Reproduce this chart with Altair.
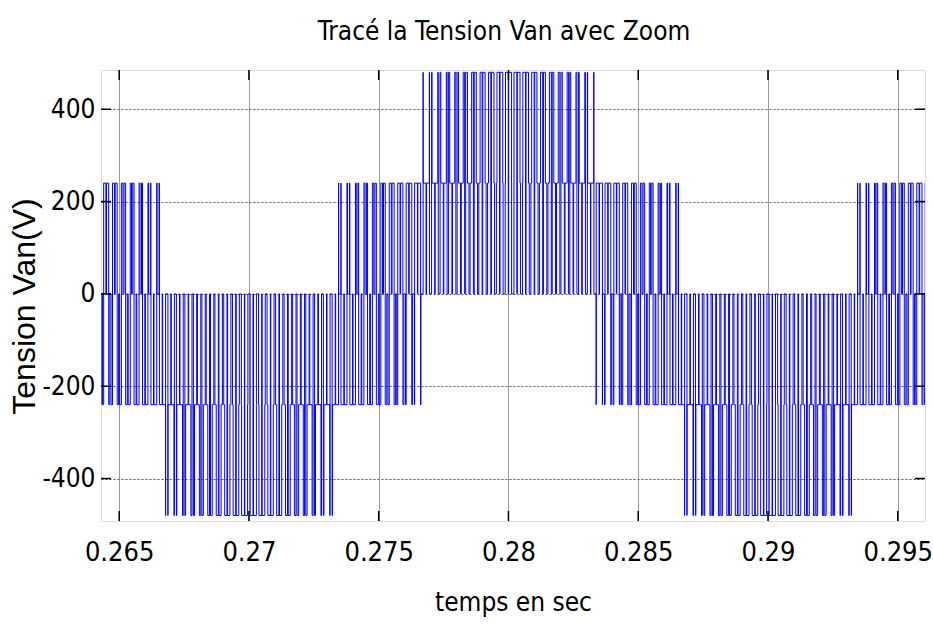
import altair as alt
import pandas as pd

# Inverter / carrier settings
carrier_start_ms = 264.0
carrier_period_ms = 1 / 3          # 3 kHz triangular carrier
dc_link_v = 720                    # gives phase-to-neutral levels of 0, ±240, ±480 V

# Duty ratio of each inverter leg, one value per carrier period
duty_a = [0.63, 0.58, 0.54, 0.49, 0.44, 0.40, 0.35, 0.31, 0.27, 0.23, 0.19, 0.16,
          0.13, 0.11, 0.08, 0.07, 0.06, 0.05, 0.05, 0.05, 0.06, 0.07, 0.09, 0.12,
          0.14, 0.17, 0.21, 0.24, 0.28, 0.33, 0.37, 0.42, 0.46, 0.51, 0.56, 0.60,
          0.65, 0.69, 0.73, 0.77, 0.81, 0.84, 0.87, 0.89, 0.91, 0.93, 0.94, 0.95,
          0.95, 0.95, 0.94, 0.92, 0.91, 0.88, 0.86, 0.83, 0.79, 0.76, 0.72, 0.67,
          0.63, 0.58, 0.54, 0.49, 0.44, 0.40, 0.35, 0.31, 0.27, 0.23, 0.19, 0.16,
          0.13, 0.11, 0.08, 0.07, 0.06, 0.05, 0.05, 0.05, 0.06, 0.07, 0.09, 0.12,
          0.14, 0.17, 0.21, 0.24, 0.28, 0.33, 0.37, 0.42, 0.46, 0.51, 0.56, 0.60,
          0.65]
duty_b = [0.81, 0.84, 0.87, 0.89, 0.91, 0.93, 0.94, 0.95,
          0.95, 0.95, 0.94, 0.92, 0.91, 0.88, 0.86, 0.83, 0.79, 0.76, 0.72, 0.67,
          0.63, 0.58, 0.54, 0.49, 0.44, 0.40, 0.35, 0.31, 0.27, 0.23, 0.19, 0.16,
          0.13, 0.11, 0.08, 0.07, 0.06, 0.05, 0.05, 0.05, 0.06, 0.07, 0.09, 0.12,
          0.14, 0.17, 0.21, 0.24, 0.28, 0.33, 0.37, 0.42, 0.46, 0.51, 0.56, 0.60,
          0.65, 0.69, 0.73, 0.77, 0.81, 0.84, 0.87, 0.89, 0.91, 0.93, 0.94, 0.95,
          0.95, 0.95, 0.94, 0.92, 0.91, 0.88, 0.86, 0.83, 0.79, 0.76, 0.72, 0.67,
          0.63, 0.58, 0.54, 0.49, 0.44, 0.40, 0.35, 0.31, 0.27, 0.23, 0.19, 0.16,
          0.13, 0.11, 0.08, 0.07, 0.06]
duty_c = [0.06, 0.07, 0.09, 0.12, 0.14, 0.17, 0.21, 0.24, 0.28, 0.33, 0.37, 0.42,
          0.46, 0.51, 0.56, 0.60, 0.65, 0.69, 0.73, 0.77, 0.81, 0.84, 0.87, 0.89,
          0.91, 0.93, 0.94, 0.95,
          0.95, 0.95, 0.94, 0.92, 0.91, 0.88, 0.86, 0.83, 0.79, 0.76, 0.72, 0.67,
          0.63, 0.58, 0.54, 0.49, 0.44, 0.40, 0.35, 0.31, 0.27, 0.23, 0.19, 0.16,
          0.13, 0.11, 0.08, 0.07, 0.06, 0.05, 0.05, 0.05, 0.06, 0.07, 0.09, 0.12,
          0.14, 0.17, 0.21, 0.24, 0.28, 0.33, 0.37, 0.42, 0.46, 0.51, 0.56, 0.60,
          0.65, 0.69, 0.73, 0.77, 0.81, 0.84, 0.87, 0.89, 0.91, 0.93, 0.94, 0.95,
          0.95, 0.95, 0.94, 0.92, 0.91, 0.88, 0.86, 0.83, 0.79]

# Axes
x_domain = [0.2643, 0.29605]
y_domain = [-492, 485]
x_ticks = [0.265, 0.27, 0.275, 0.28, 0.285, 0.29, 0.295]
y_ticks = [-400, -200, 0, 200, 400]

# Each leg is on for the middle part of its carrier period
events = []
for i, duties in enumerate(zip(duty_a, duty_b, duty_c)):
    t0 = carrier_start_ms + i * carrier_period_ms
    for leg, d in enumerate(duties):
        events.append((t0 + (1 - d) * carrier_period_ms / 2, leg, 1))
        events.append((t0 + (1 + d) * carrier_period_ms / 2, leg, 0))
events.sort()

state = [0, 0, 0]
rows = [{"t": carrier_start_ms / 1000, "v": 0.0}]
for t, leg, s in events:
    state[leg] = s
    van = dc_link_v / 3 * (2 * state[0] - state[1] - state[2])
    rows.append({"t": t / 1000, "v": van})
wave = pd.DataFrame(rows)

W, H = 824, 451
NARROW = "Liberation Sans Narrow, Arial Narrow, DejaVu Sans Condensed, sans-serif"
REGULAR = "Liberation Sans, Arial, sans-serif"

x_scale = alt.Scale(domain=x_domain, nice=False, zero=False)
y_scale = alt.Scale(domain=y_domain, nice=False, zero=False)

line = alt.Chart(wave).mark_line(
    interpolate="step-after", clip=True, color="#0000ff", strokeWidth=1
).encode(
    x=alt.X("t:Q", scale=x_scale,
            axis=alt.Axis(values=x_ticks, labelExpr="'' + datum.value",
                          title="temps en sec", grid=True, gridColor="#9a9a9a",
                          gridWidth=1, ticks=False, domain=False,
                          labelFont=NARROW, labelFontSize=27, labelPadding=18,
                          labelColor="black", titleFont=NARROW, titleFontSize=26,
                          titleFontWeight="normal", titleColor="black",
                          titlePadding=24)),
    y=alt.Y("v:Q", scale=y_scale,
            axis=alt.Axis(values=y_ticks, labelExpr="'' + datum.value",
                          title="Tension Van(V)", grid=True, gridColor="#555555",
                          gridDash=[2, 2], gridWidth=1, ticks=False, domain=False,
                          labelFont=NARROW, labelFontSize=26, labelPadding=6,
                          labelColor="black", titleFont=REGULAR, titleFontSize=32,
                          titleFontWeight="normal", titleColor="black",
                          titleX=-60, titleY=236, titleBaseline="bottom")),
)

xt = pd.DataFrame({"t": x_ticks})
yt = pd.DataFrame({"v": y_ticks})
tick_style = dict(color="black", strokeWidth=1.5)

ticks_bottom = alt.Chart(xt).mark_rule(**tick_style).encode(
    x=alt.X("t:Q", scale=x_scale), y=alt.value(H - 10), y2=alt.value(H))
ticks_top = alt.Chart(xt).mark_rule(**tick_style).encode(
    x=alt.X("t:Q", scale=x_scale), y=alt.value(0), y2=alt.value(10))
ticks_left = alt.Chart(yt).mark_rule(**tick_style).encode(
    y=alt.Y("v:Q", scale=y_scale), x=alt.value(0), x2=alt.value(10))
ticks_right = alt.Chart(yt).mark_rule(**tick_style).encode(
    y=alt.Y("v:Q", scale=y_scale), x=alt.value(W - 10), x2=alt.value(W))

chart = alt.layer(line, ticks_bottom, ticks_top, ticks_left, ticks_right).properties(
    width=W, height=H,
    title=alt.TitleParams("Tracé la Tension Van avec Zoom", font=NARROW, fontSize=26,
                          fontWeight="normal", color="black", offset=24, dx=-9),
    autosize=alt.AutoSizeParams(type="none"),
    padding={"left": 101, "top": 70, "right": 8, "bottom": 104},
).configure_view(
    stroke="black", strokeWidth=2
).configure(background="white")

chart.save("out.html", embed_options={"renderer": "svg", "actions": False})
